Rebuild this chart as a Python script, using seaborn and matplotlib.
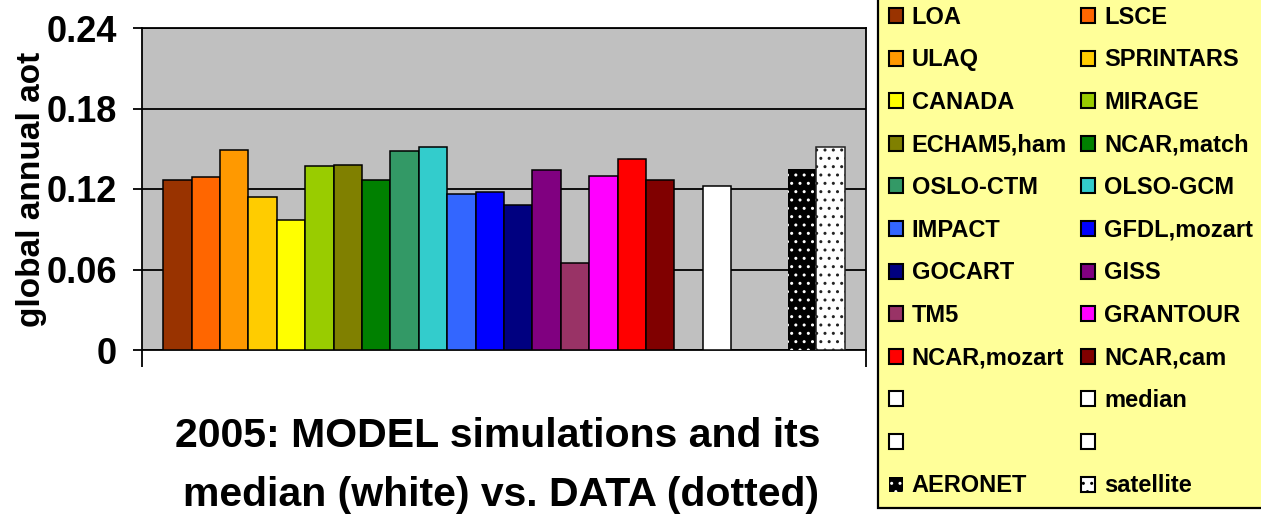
import matplotlib
matplotlib.use("Agg")
import matplotlib.pyplot as plt
from matplotlib.patches import Patch
from matplotlib.font_manager import FontProperties
import seaborn as sns
import pandas as pd

# ---------------- data ----------------
models = ["LOA", "LSCE", "ULAQ", "SPRINTARS", "CANADA", "MIRAGE", "ECHAM5,ham",
          "NCAR,match", "OSLO-CTM", "OLSO-GCM", "IMPACT", "GFDL,mozart", "GOCART",
          "GISS", "TM5", "GRANTOUR", "NCAR,mozart", "NCAR,cam"]
model_aot = [0.127, 0.129, 0.149, 0.114, 0.097, 0.137, 0.138, 0.127, 0.148, 0.151,
             0.116, 0.118, 0.108, 0.134, 0.065, 0.130, 0.142, 0.127]
model_colors = ["#993300", "#FF6600", "#FF9900", "#FFCC00", "#FFFF00", "#99CC00",
                "#808000", "#008000", "#339966", "#33CCCC", "#3366FF", "#0000FF",
                "#000080", "#800080", "#993366", "#FF00FF", "#FF0000", "#800000"]
median_label = "median"
median_aot = 0.1225
data_labels = ["AERONET", "satellite"]
data_aot = [0.135, 0.151]
blank_labels = [" ", "  ", "   "]
slot_order = models + [blank_labels[0], median_label, blank_labels[1], blank_labels[2]] + data_labels
ytick_values = [0, 0.06, 0.12, 0.18, 0.24]
ytick_labels = ["0", "0.06", "0.12", "0.18", "0.24"]
title_lines = ["2005: MODEL simulations and its", "median (white) vs. DATA (dotted)"]
ylabel = "global annual aot"

# ---------------- figure ----------------
sns.set_theme(style="ticks")
plt.rcParams["font.family"] = ["Liberation Sans", "DejaVu Sans"]
plt.rcParams["text.color"] = "black"
plt.rcParams["axes.labelcolor"] = "black"
plt.rcParams["xtick.color"] = "black"
plt.rcParams["ytick.color"] = "black"
plt.rcParams["hatch.linewidth"] = 1.0
narrow = ["Liberation Sans Narrow", "Liberation Sans", "DejaVu Sans"]

W, H = 1261, 519
fig = plt.figure(figsize=(W / 100, H / 100), dpi=100)
fig.patch.set_facecolor("white")
ax = fig.add_axes([142 / W, 169 / H, 724 / W, 322 / H])
ax.set_facecolor("#C0C0C0")

names = models + [median_label] + data_labels
values = model_aot + [median_aot] + data_aot
palette = dict(zip(models, model_colors))
palette[median_label] = "#FFFFFF"
palette["AERONET"] = "#000000"
palette["satellite"] = "#FFFFFF"
df = pd.DataFrame({"series": names, "aot": values})

sns.barplot(data=df, x="series", y="aot", hue="series", order=slot_order,
            palette=palette, width=1.0, saturation=1, errorbar=None,
            edgecolor="black", linewidth=1.1, legend=False, ax=ax, zorder=3)

for p in ax.patches:
    idx = int(round(p.get_x() + p.get_width() / 2))
    if 0 <= idx < len(slot_order):
        nm = slot_order[idx]
        if nm == "AERONET":
            p.set_hatch("..")
            p.set_edgecolor("white")
            p.set_linewidth(0)
        elif nm == "satellite":
            p.set_hatch("..")
            p.set_edgecolor("#222222")

ax.set_xlim(-1.25, len(slot_order) - 1 + 1.25)
ax.set_ylim(0, 0.24)
ax.set_yticks(ytick_values)
ax.set_yticklabels(ytick_labels)
ax.set_xticks([-1.25, len(slot_order) - 1 + 1.25])
ax.set_xticklabels(["", ""])
ax.set_xlabel("")
ax.set_ylabel(ylabel, fontsize=24, fontweight="bold", color="black")
ax.yaxis.set_label_coords(-0.131, 0.5)

ax.grid(axis="y", color="black", linewidth=1.3, zorder=1)
ax.grid(axis="x", visible=False)
ax.set_axisbelow(True)
for s in ax.spines.values():
    s.set_visible(True)
    s.set_color("black")
    s.set_linewidth(1.3)

ax.tick_params(axis="y", direction="out", length=6.5, width=1.3, pad=11.5,
               labelsize=26, colors="black")
ax.tick_params(axis="x", direction="out", length=12.2, width=1.3, colors="black")
for lbl in ax.get_yticklabels():
    lbl.set_family(narrow)
    lbl.set_fontweight("bold")

# title as two lines beneath the plot
fig.text(498 / W, 1 - 447 / H, title_lines[0], ha="center", va="baseline",
         fontsize=29.5, fontweight="bold", family=narrow, color="black")
fig.text(501 / W, 1 - 506 / H, title_lines[1], ha="center", va="baseline",
         fontsize=29.5, fontweight="bold", family=narrow, color="black")

# legend (row-wise order like the reference)
def handle_for(nm):
    if nm == "AERONET":
        return Patch(facecolor="black", edgecolor="white", hatch="..", linewidth=0)
    if nm == "satellite":
        return Patch(facecolor="white", edgecolor="black", hatch="..", linewidth=1.5)
    return Patch(facecolor=palette.get(nm, "#FFFFFF"), edgecolor="black", linewidth=1.5)

labels_show = [("" if nm in blank_labels else nm) for nm in slot_order]
handles_all = [handle_for(nm) for nm in slot_order]
order_idx = list(range(0, len(slot_order), 2)) + list(range(1, len(slot_order), 2))
handles = [handles_all[i] for i in order_idx]
labels = [labels_show[i] for i in order_idx]

leg = fig.legend(handles, labels, ncol=2, loc="lower left",
                 bbox_to_anchor=(878 / W, 11 / H),
                 prop=FontProperties(family="Liberation Sans", weight="bold", size=17),
                 handlelength=0.6, handleheight=0.6, handletextpad=0.38,
                 columnspacing=0.6, labelspacing=0.83, borderpad=0.45,
                 borderaxespad=0, fancybox=False, frameon=True,
                 edgecolor="black", facecolor="#FFFF99", framealpha=1)
leg.get_frame().set_linewidth(1.6)
for t in leg.get_texts():
    t.set_color("black")

fig.savefig("out.png", dpi=100)
